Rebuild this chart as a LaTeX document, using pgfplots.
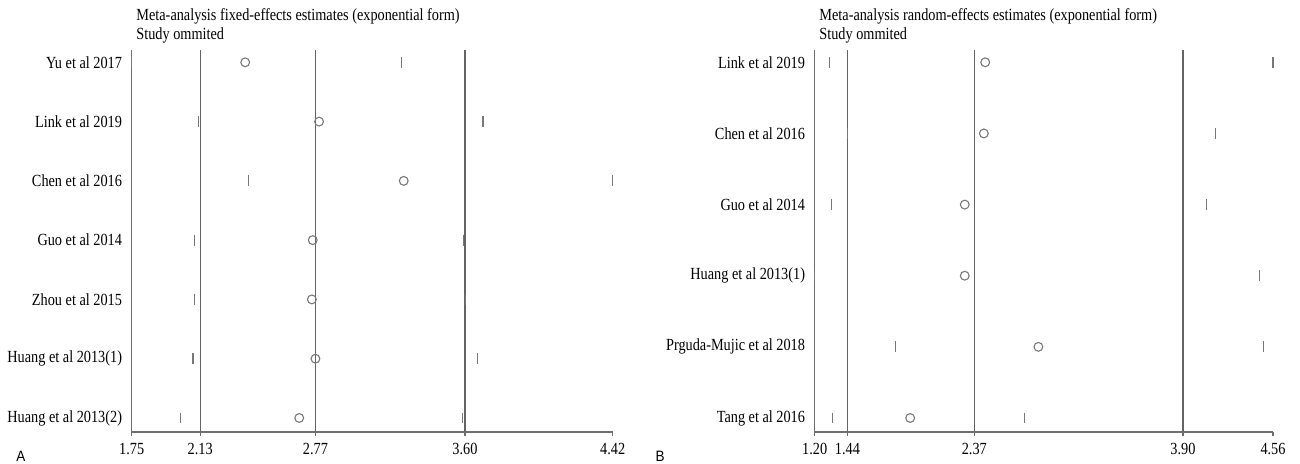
\documentclass[border=0pt]{standalone}
\usepackage{fontspec}
\setmainfont{Liberation Serif}[FakeStretch=0.84]
\setsansfont{Liberation Sans}[FakeStretch=0.9]
\usepackage{pgfplots}
\usepackage{pgfplotstable}
\pgfplotsset{compat=1.18}
\definecolor{refgray}{RGB}{100,100,100}
\definecolor{mkgray}{RGB}{120,120,120}
\definecolor{axgray}{RGB}{110,110,110}

% row: 7 = top
\pgfplotstableread{
row lo est hi
7 1.75 2.38 3.25
6 2.12 2.79 3.70
5 2.40 3.26 4.42
4 2.10 2.755 3.59
3 2.10 2.75 3.605
2 2.09 2.77 3.67
1 2.02 2.68 3.585
}\fixedtab

\pgfplotstableread{
row lo est hi
6 1.31 2.45 4.56
5 1.44 2.44 4.14
4 1.32 2.30 4.07
3 1.20 2.30 4.46
2 1.79 2.84 4.49
1 1.33 1.90 2.74
}\randtab

\newcommand{\lbl}{\fontsize{8.5pt}{10pt}\selectfont}

\pgfplotsset{
  forest/.style={
    scale only axis,
    anchor=south west,
    height=191pt,
    axis x line=bottom,
    axis y line=left,
    axis line style={-, draw=axgray, line width=0.6pt},
    clip=false,
    tick align=outside,
    x tick style={draw=axgray, line width=0.6pt},
    major tick length=2.25pt,
    y tick style={draw=none},
    minor tick num=0,
    tick label style={font=\lbl},
    xticklabel style={inner sep=0pt, anchor=north, yshift=-3pt},
    yticklabel style={inner sep=0pt, anchor=east, xshift=-2.4pt},
  },
  refline/.style={draw=refgray, line width=0.6pt, no marks},
  ciend/.style={only marks, mark=|, mark size=2.7pt, mark options={draw=mkgray, line width=0.55pt}},
  pointest/.style={only marks, mark=o, mark size=2.2pt, mark options={draw=mkgray, line width=0.55pt}},
}

\begin{document}
\begin{tikzpicture}
\path[use as bounding box] (0,0) rectangle (650pt,232pt);

% ---------- Panel A ----------
\begin{axis}[forest,
  at={(65.85pt,16pt)},
  width=240.5pt,
  xmin=1.75, xmax=4.42,
  ymin=0.763, ymax=7.208,
  xtick={1.75,2.13,2.77,3.60,4.42},
  xticklabels={1.75,2.13,2.77,3.60,4.42},
  ytick={1,2,3,4,5,6,7},
  yticklabels={Huang et al 2013(2),Huang et al 2013(1),Zhou et al 2015,Guo et al 2014,Chen et al 2016,Link et al 2019,Yu et al 2017},
]
\addplot[refline] coordinates {(2.13,0.763) (2.13,7.208)};
\addplot[refline] coordinates {(2.77,0.763) (2.77,7.208)};
\addplot[refline] coordinates {(3.60,0.763) (3.60,7.208)};
\addplot[ciend] table[x=lo, y=row] {\fixedtab};
\addplot[ciend] table[x=hi, y=row] {\fixedtab};
\addplot[pointest] table[x=est, y=row] {\fixedtab};
\end{axis}

% ---------- Panel B ----------
\begin{axis}[forest,
  at={(407.35pt,16pt)},
  width=229.15pt,
  xmin=1.20, xmax=4.56,
  ymin=0.803, ymax=6.173,
  xtick={1.20,1.44,2.37,3.90,4.56},
  xticklabels={1.20,1.44,2.37,3.90,4.56},
  ytick={1,2,3,4,5,6},
  yticklabels={Tang et al 2016,Prguda-Mujic et al 2018,Huang et al 2013(1),Guo et al 2014,Chen et al 2016,Link et al 2019},
]
\addplot[refline] coordinates {(1.44,0.803) (1.44,6.173)};
\addplot[refline] coordinates {(2.37,0.803) (2.37,6.173)};
\addplot[refline] coordinates {(3.90,0.803) (3.90,6.173)};
\addplot[ciend] table[x=lo, y=row] {\randtab};
\addplot[ciend] table[x=hi, y=row] {\randtab};
\addplot[pointest] table[x=est, y=row] {\randtab};
\end{axis}

% ---------- titles ----------
\node[anchor=base west, inner sep=0pt, font=\lbl] at (68pt,221.5pt) {Meta-analysis fixed-effects estimates (exponential form)};
\node[anchor=base west, inner sep=0pt, font=\lbl] at (68pt,212pt) {Study ommited};
\node[anchor=base west, inner sep=0pt, font=\lbl] at (409.5pt,221.5pt) {Meta-analysis random-effects estimates (exponential form)};
\node[anchor=base west, inner sep=0pt, font=\lbl] at (409.5pt,212pt) {Study ommited};

\node[inner sep=0pt, font=\sffamily\fontsize{7.5pt}{8pt}\selectfont] at (10.5pt,4pt) {A};
\node[inner sep=0pt, font=\sffamily\fontsize{7.5pt}{8pt}\selectfont] at (330pt,4pt) {B};
\end{tikzpicture}
\end{document}
